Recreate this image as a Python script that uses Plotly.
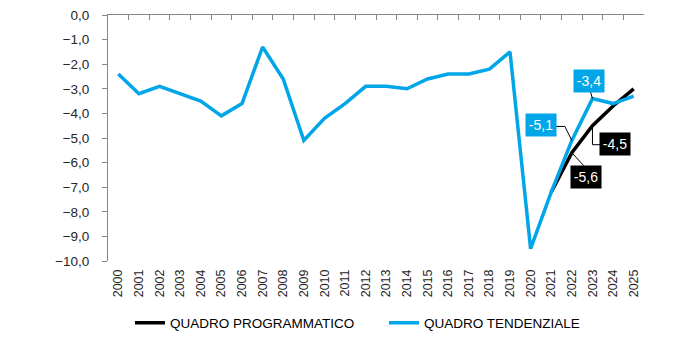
import plotly.graph_objects as go

years = list(range(2000, 2026))
tendenziale = [-2.4, -3.2, -2.9, -3.2, -3.5, -4.1, -3.6, -1.3, -2.6, -5.1,
               -4.2, -3.6, -2.9, -2.9, -3.0, -2.6, -2.4, -2.4, -2.2, -1.5,
               -9.5, -7.2, -5.1, -3.4, -3.6, -3.3]
prog_years = [2021, 2022, 2023, 2024, 2025]
programmatico = [-7.2, -5.6, -4.5, -3.7, -3.0]

BLUE = "#00A6E8"
BLACK = "#000000"
FONT = "Liberation Sans, Arial, sans-serif"

fig = go.Figure()
fig.add_trace(go.Scatter(x=prog_years, y=programmatico, mode="lines",
                         name="QUADRO PROGRAMMATICO",
                         line=dict(color=BLACK, width=3.5)))
fig.add_trace(go.Scatter(x=years, y=tendenziale, mode="lines",
                         name="QUADRO TENDENZIALE",
                         line=dict(color=BLUE, width=3.5)))
# invisible trace for top axis
fig.add_trace(go.Scatter(x=[years[0]], y=[0], xaxis="x2", mode="markers",
                         marker=dict(opacity=0), showlegend=False, hoverinfo="skip"))

# labels: (x, y, text, bg, dx, dy, leader path in pixels, y up)
labels = [
    (2022, tendenziale[22], "-5,1", BLUE, -30.5, 15, "M0,0 L-7,14 L-16,14"),
    (2023, tendenziale[23], "-3,4", BLUE, -3, 18, "M0,0 L-2,7"),
    (2023, programmatico[2], "-4,5", BLACK, 22.5, -18.5, "M0,0 L0,-19 L9,-19"),
    (2022, programmatico[1], "-5,6", BLACK, 14.5, -24.5, "M0,0 L12,-13"),
]
for x, y, t, bg, dx, dy, path in labels:
    fig.add_shape(type="path", xref="x", yref="y", xsizemode="pixel", ysizemode="pixel",
                  xanchor=x, yanchor=y, path=path, line=dict(color="black", width=1))
    fig.add_annotation(x=x, y=y, text=t, showarrow=False, xshift=dx, yshift=dy,
                       bgcolor=bg, font=dict(color="white", size=14, family=FONT),
                       width=28, height=20, borderpad=1)

boundaries = [y + 0.5 for y in range(1999, 2026)]

fig.update_layout(
    width=700, height=341,
    margin=dict(l=108, r=56, t=15, b=80, autoexpand=False),
    paper_bgcolor="white", plot_bgcolor="white",
    separators=",.",
    font=dict(family=FONT, color="#262626"),
    showlegend=True,
    legend=dict(orientation="h", x=0.041, xanchor="left", y=-0.252, yanchor="middle",
                font=dict(size=13.5, color="black", family=FONT),
                entrywidth=209, entrywidthmode="pixels",
                itemwidth=30, tracegroupgap=0),
    xaxis=dict(range=[1999.5, 2025.5], tickmode="array", tickvals=years,
               ticktext=[str(y) for y in years], tickangle=-90,
               tickfont=dict(size=12.5, color="#262626"),
               showline=False, showgrid=False, zeroline=False, ticks="",
               ticklabelstandoff=5, automargin=False),
    xaxis2=dict(range=[1999.5, 2025.5], overlaying="x", side="top", anchor="y",
                tickmode="array", tickvals=boundaries, showticklabels=False,
                ticks="inside", ticklen=5, tickcolor="#868686", tickwidth=1,
                showline=True, linecolor="#868686", linewidth=1,
                showgrid=False, zeroline=False, automargin=False),
    yaxis=dict(range=[-10, 0], dtick=1, tickformat=".1f",
               tickfont=dict(size=13.5, color="#262626"),
               showline=True, linecolor="#868686", linewidth=1,
               ticks="outside", ticklen=5, tickcolor="#868686",
               showgrid=False, zeroline=False, ticklabelstandoff=10, automargin=False),
)

fig.write_html("out.html")
